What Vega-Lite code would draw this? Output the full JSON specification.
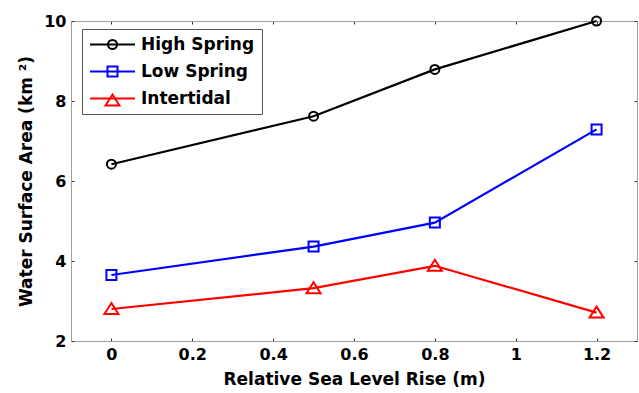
{
  "$schema": "https://vega.github.io/schema/vega-lite/v6.json",
  "width": 566,
  "height": 320,
  "autosize": "none",
  "padding": {"left": 71, "top": 21, "right": 2, "bottom": 52},
  "background": "white",
  "config": {
    "view": {"stroke": "#a0a0a0", "strokeWidth": 1},
    "font": "DejaVu Sans",
    "axis": {
      "domainColor": "#a0a0a0",
      "tickColor": "#333333",
      "tickSize": -3,
      "grid": false,
      "labelFont": "DejaVu Sans",
      "labelFontWeight": "bold",
      "labelFontSize": 16,
      "labelColor": "black",
      "titleFont": "DejaVu Sans",
      "titleFontWeight": "bold",
      "titleFontSize": 17,
      "titleColor": "black"
    },
    "legend": {
      "title": null,
      "orient": "none",
      "legendX": 11,
      "legendY": 8,
      "direction": "vertical",
      "padding": 7,
      "strokeColor": "#555555",
      "fillColor": "transparent",
      "symbolSize": 100,
      "symbolStrokeWidth": 2,
      "symbolOffset": 15,
      "labelOffset": 20,
      "labelFont": "DejaVu Sans",
      "labelFontWeight": "bold",
      "labelFontSize": 17,
      "labelColor": "black",
      "rowPadding": 9
    }
  },
  "data": {
    "values": [
      {"rise": 0, "area": 6.42, "series": "High Spring"},
      {"rise": 0.5, "area": 7.62, "series": "High Spring"},
      {"rise": 0.8, "area": 8.79, "series": "High Spring"},
      {"rise": 1.2, "area": 10.0, "series": "High Spring"},
      {"rise": 0, "area": 3.65, "series": "Low Spring"},
      {"rise": 0.5, "area": 4.36, "series": "Low Spring"},
      {"rise": 0.8, "area": 4.96, "series": "Low Spring"},
      {"rise": 1.2, "area": 7.29, "series": "Low Spring"},
      {"rise": 0, "area": 2.8, "series": "Intertidal"},
      {"rise": 0.5, "area": 3.32, "series": "Intertidal"},
      {"rise": 0.8, "area": 3.88, "series": "Intertidal"},
      {"rise": 1.2, "area": 2.71, "series": "Intertidal"}
    ]
  },
  "resolve": {
    "axis": {"x": "independent", "y": "independent"},
    "scale": {"color": "independent", "shape": "independent"},
    "legend": {"color": "independent", "shape": "independent"}
  },
  "layer": [
    {
      "mark": {"type": "line", "strokeWidth": 2.2},
      "encoding": {
        "x": {
          "field": "rise", "type": "quantitative",
          "scale": {"domain": [-0.1, 1.3], "nice": false, "zero": false},
          "axis": {"orient": "bottom", "values": [0, 0.2, 0.4, 0.6, 0.8, 1, 1.2], "format": "~g", "labelPadding": 8, "title": "Relative Sea Level Rise (m)", "titlePadding": 9}
        },
        "y": {
          "field": "area", "type": "quantitative",
          "scale": {"domain": [2, 10], "nice": false, "zero": false},
          "axis": {"orient": "left", "values": [2, 4, 6, 8, 10], "labelPadding": 8, "title": "Water Surface Area (km ²)", "titlePadding": 8}
        },
        "color": {
          "field": "series", "type": "nominal",
          "scale": {"domain": ["High Spring", "Low Spring", "Intertidal"], "range": ["#000000", "#0000ff", "#ff0000"]},
          "legend": {"symbolType": "M-4.5,0H4.5"}
        }
      }
    },
    {
      "mark": {"type": "point", "filled": false, "strokeWidth": 2, "size": 100, "opacity": 1},
      "encoding": {
        "x": {
          "field": "rise", "type": "quantitative",
          "scale": {"domain": [-0.1, 1.3], "nice": false, "zero": false},
          "axis": {"orient": "top", "values": [0, 0.2, 0.4, 0.6, 0.8, 1, 1.2], "labels": false, "title": null}
        },
        "y": {
          "field": "area", "type": "quantitative",
          "scale": {"domain": [2, 10], "nice": false, "zero": false},
          "axis": {"orient": "right", "values": [2, 4, 6, 8, 10], "labels": false, "title": null}
        },
        "color": {
          "field": "series", "type": "nominal",
          "scale": {"domain": ["High Spring", "Low Spring", "Intertidal"], "range": ["#000000", "#0000ff", "#ff0000"]},
          "legend": {"labelExpr": "' '", "strokeColor": "transparent", "fillColor": "transparent"}
        },
        "shape": {
          "field": "series", "type": "nominal",
          "scale": {"domain": ["High Spring", "Low Spring", "Intertidal"], "range": ["M-0.9,0A0.9,0.9 0 1,1 0.9,0A0.9,0.9 0 1,1 -0.9,0Z", "M-1,-1H1V1H-1Z", "M0,-1.2L1.4,1L-1.4,1Z"]},
          "legend": {"labelExpr": "' '", "strokeColor": "transparent", "fillColor": "transparent"}
        }
      }
    }
  ]
}
